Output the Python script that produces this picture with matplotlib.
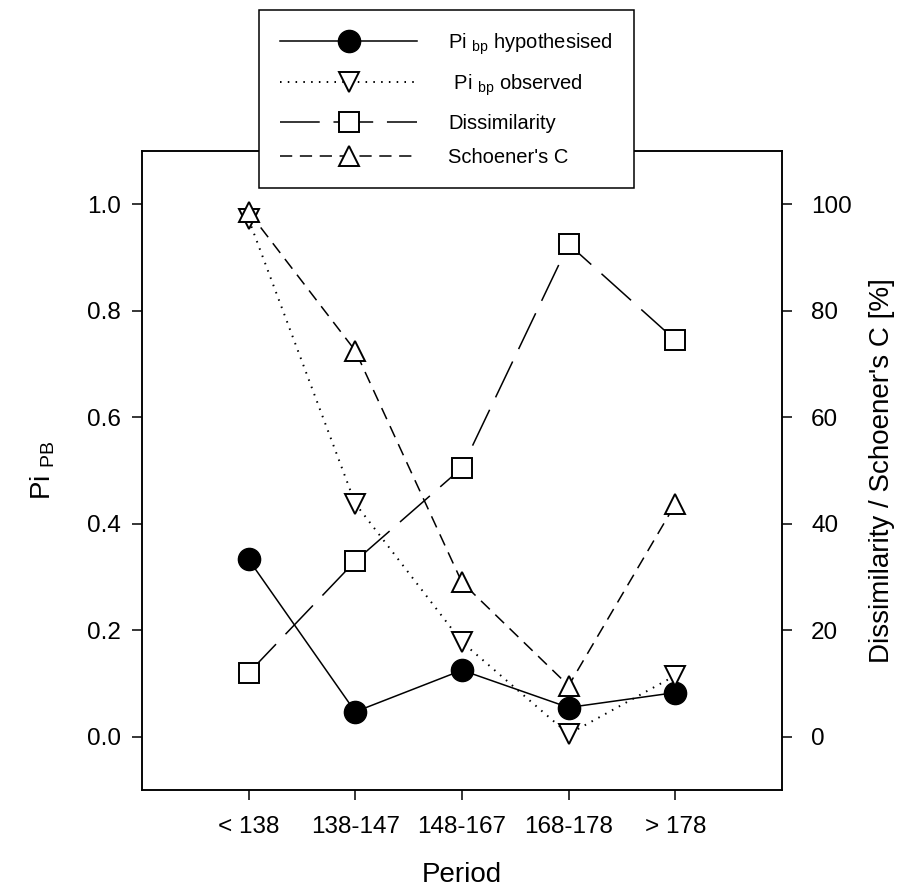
import matplotlib
matplotlib.use("Agg")
import matplotlib.pyplot as plt

plt.rcParams['font.family'] = ['Liberation Sans', 'DejaVu Sans']
plt.rcParams['mathtext.fontset'] = 'custom'
plt.rcParams['mathtext.rm'] = 'Liberation Sans'
plt.rcParams['mathtext.it'] = 'Liberation Sans'

# data
periods = ['< 138', '138-147', '148-167', '168-178', '> 178']
pi_hyp = [0.333, 0.047, 0.125, 0.055, 0.083]
pi_obs = [0.972, 0.438, 0.178, 0.005, 0.115]
dissim = [12.0, 33.0, 50.5, 92.5, 74.5]
schoener = [98.6, 72.5, 29.0, 9.6, 43.7]

x = list(range(len(periods)))

fig = plt.figure(figsize=(9.04, 8.92), dpi=100)
ax = fig.add_axes([0.157, 0.1143, 0.708, 0.7164])
ax2 = ax.twinx()

lw = 1.1
l1, = ax.plot(x, pi_hyp, '-', color='black', lw=lw, marker='o', ms=16,
              mfc='black', mec='black', label=r'Pi $_{\mathrm{bp}}$ hypothesised')
l2, = ax.plot(x, pi_obs, color='black', lw=1.4, marker='v', ms=15,
              mfc='white', mec='black', mew=1.4, label=r' Pi $_{\mathrm{bp}}$ observed')
l2.set_dashes((0.8, 3.2))
l3, = ax2.plot(x, dissim, color='black', lw=lw, marker='s', ms=14,
               mfc='white', mec='black', mew=1.4, label='Dissimilarity')
l3.set_dashes((26, 9))
l4, = ax2.plot(x, schoener, color='black', lw=lw, marker='^', ms=15,
               mfc='white', mec='black', mew=1.4, label="Schoener's C")
l4.set_dashes((8, 5))

ax.set_xlim(-1, 5)
ax.set_ylim(-0.1, 1.1)
ax2.set_ylim(-10, 110)
ax.set_xticks(x)
ax.set_xticklabels(periods)
ax.set_yticks([0.0, 0.2, 0.4, 0.6, 0.8, 1.0])
ax.set_yticklabels(['0.0', '0.2', '0.4', '0.6', '0.8', '1.0'])
ax2.set_yticks([0, 20, 40, 60, 80, 100])

for a in (ax, ax2):
    for s in a.spines.values():
        s.set_linewidth(1.1)
    a.tick_params(direction='out', length=7, width=1.1, labelsize=17.5)
ax.tick_params(axis='y', pad=8)
ax.tick_params(axis='x', pad=12)
ax2.tick_params(axis='y', pad=14)

ax.set_xlabel('Period', fontsize=20)
ax.xaxis.set_label_coords(0.5, -0.112)
ax.set_ylabel(r'Pi $_{\mathrm{PB}}$', fontsize=20, labelpad=22)
ax2.set_ylabel("Dissimilarity / Schoener's C [%]", fontsize=20, labelpad=12)

leg = ax2.legend(handles=[l1, l2, l3, l4], loc='upper left',
                 bbox_to_anchor=(0.2865, 0.9888), bbox_transform=fig.transFigure,
                 borderaxespad=0, fancybox=False, framealpha=1, edgecolor='black',
                 fontsize=14.5, handlelength=6.8, handletextpad=1.55,
                 labelspacing=0.78, borderpad=1.05)
leg.get_frame().set_linewidth(1.1)

fig.savefig('out.png', dpi=100)
